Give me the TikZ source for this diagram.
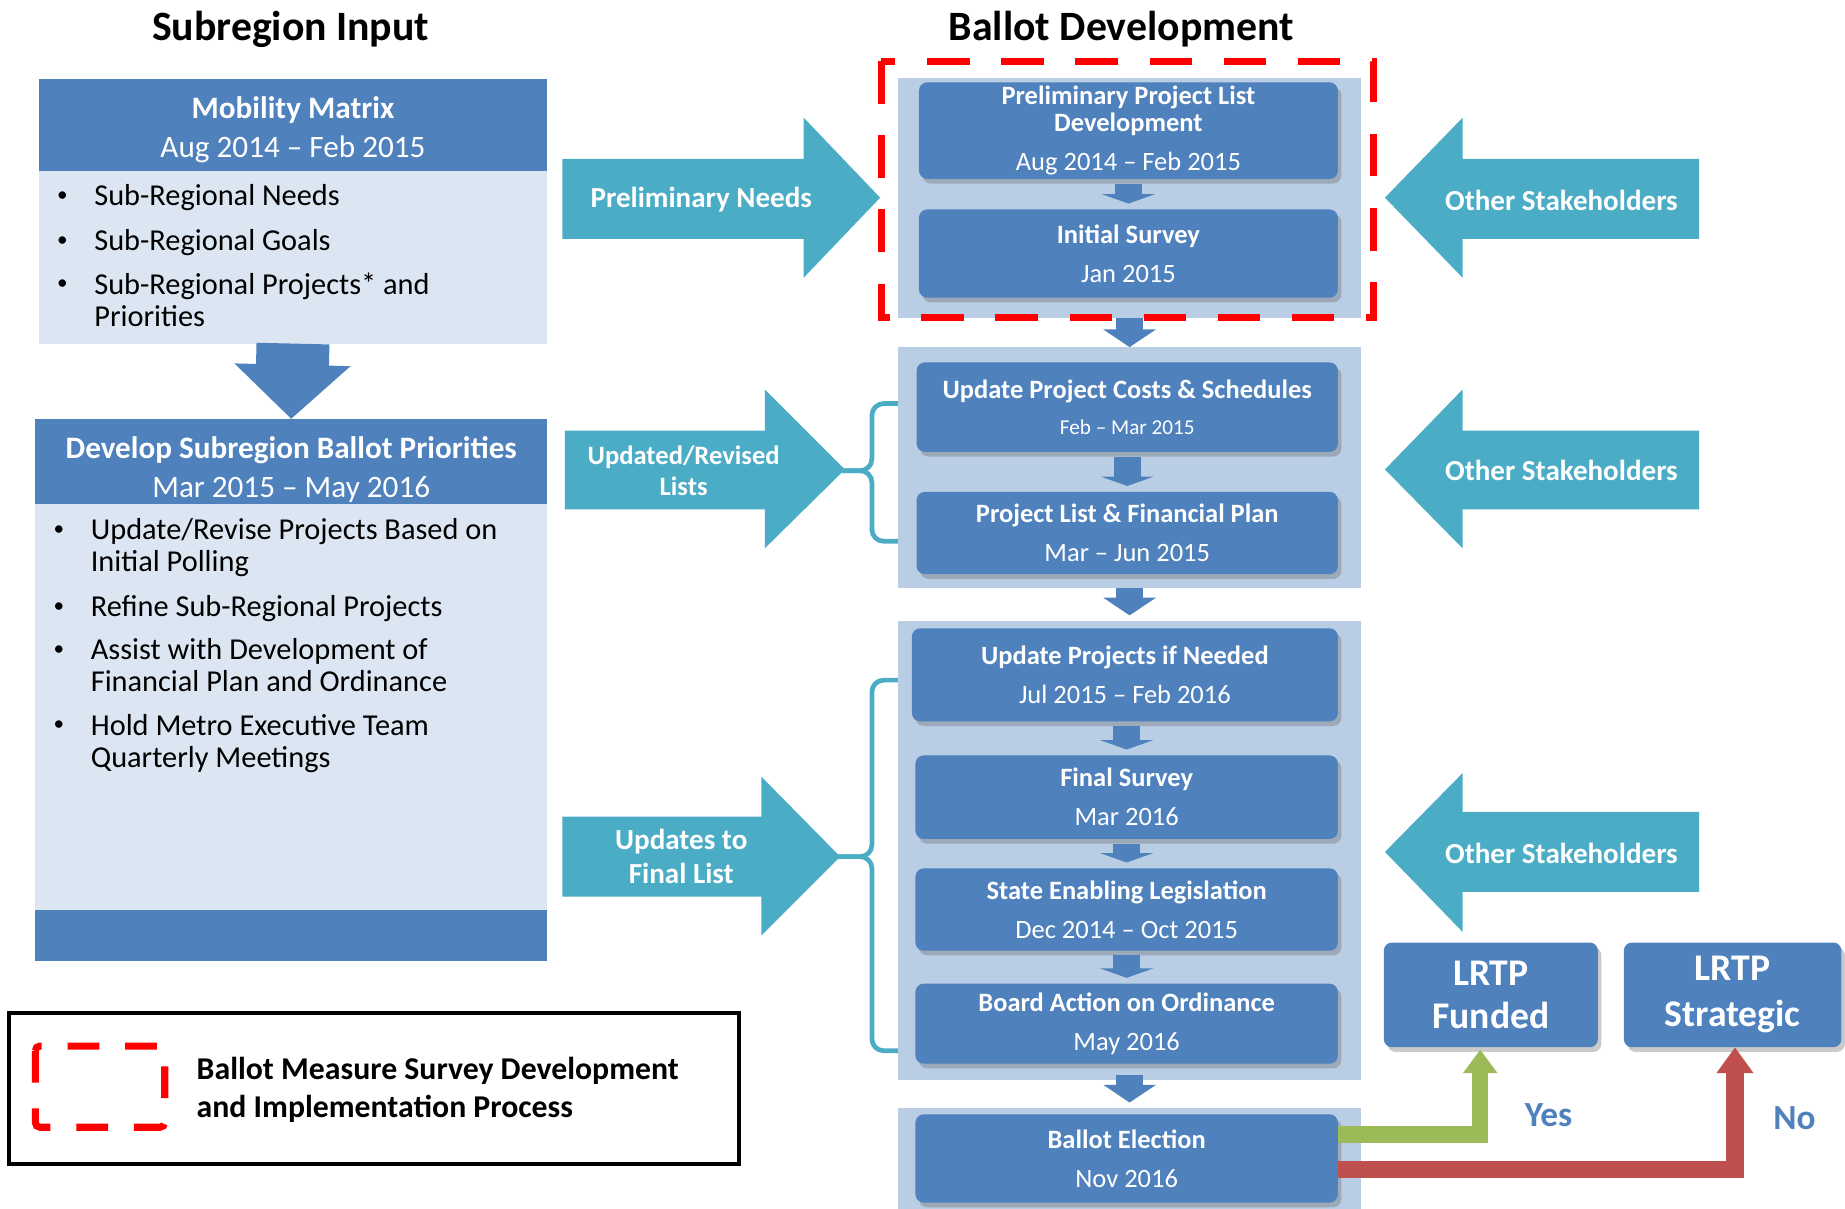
\documentclass[tikz,border=0pt]{standalone}
\usepackage{fontspec}
\setmainfont{Carlito}
\usetikzlibrary{arrows.meta,shadows,calc}
\definecolor{boxblue}{HTML}{4F81BD}
\definecolor{groupblue}{HTML}{B9CDE5}
\definecolor{lightblue}{HTML}{DCE6F2}
\definecolor{tealc}{HTML}{4BACC6}
\definecolor{yesgreen}{HTML}{9BBB59}
\definecolor{nored}{HTML}{C0504D}
\begin{document}
\begin{tikzpicture}[x=1pt,y=-1pt,
  maintitle/.style={inner sep=0pt,font=\fontsize{35.5}{40}\selectfont\bfseries},
  headbox/.style={fill=boxblue,inner sep=0pt,outer sep=0pt},
  headtext/.style={text=white,align=center,inner sep=0pt,font=\fontsize{26.5}{33}\selectfont},
  lightbox/.style={fill=lightblue,inner sep=0pt,outer sep=0pt},
  bulletitem/.style={anchor=west,align=left,inner sep=0pt,font=\fontsize{25.8}{27}\selectfont},
  bulletdot/.style={inner sep=0pt,font=\fontsize{18}{20}\selectfont},
  groupbg/.style={fill=groupblue,inner sep=0pt,outer sep=0pt,minimum width=394pt},
  stepbox/.style={fill=boxblue,text=white,rounded corners=7pt,align=center,inner sep=0pt,outer sep=0pt,
    drop shadow={shadow xshift=3pt,shadow yshift=-4pt,opacity=0.35,fill=black!60},
    font=\fontsize{22.5}{27}\selectfont},
  smallarrow/.style={draw=boxblue,line width=23pt,-{Triangle[width=45pt,length=8pt]},shorten <=4pt,shorten >=5pt},
  bigarrow/.style={draw=boxblue,line width=23pt,-{Triangle[width=44pt,length=15pt]}},
  teallabel/.style={text=white,align=center,inner sep=0pt,font=\fontsize{24.7}{27}\selectfont\bfseries},
  tealbrace/.style={draw=tealc,line width=4pt,rounded corners=10pt},
  dashbox/.style={draw=red,line width=6pt,dash pattern=on 36pt off 27pt},
  lrtp/.style={stepbox,font=\fontsize{32}{37}\selectfont\bfseries},
  yesno/.style={text=boxblue,inner sep=0pt,font=\fontsize{30}{34}\selectfont\bfseries}
]
\useasboundingbox (0,0) rectangle (1568,1027);
% 見出し
\node[maintitle] (subin) at (247,25) {Subregion Input};
\node[maintitle] (baldev) at (953,25) {Ballot Development};
% 左の列
\node[headbox,minimum width=432pt,minimum height=78pt] (mmhead) at (249,106) {};
\node[headtext] (mmtitle) at (249,110) {\textbf{Mobility Matrix}\\Aug 2014 -- Feb 2015};
\node[lightbox,minimum width=432pt,minimum height=147pt,anchor=north] (mmbody) at (mmhead.south) {};
\node[bulletdot] at (53,167) {\textbullet};
\node[bulletitem] (mm1) at (80,168) {Sub-Regional Needs};
\node[bulletdot] at (53,205) {\textbullet};
\node[bulletitem] (mm2) at (80,206.5) {Sub-Regional Goals};
\node[bulletdot] at (53,242) {\textbullet};
\node[bulletitem] (mm3) at (80,255) {Sub-Regional Projects* and\\Priorities};
\node[headbox,minimum width=435pt,minimum height=72pt] (devhead) at (247.5,392) {};
\node[headtext] (devtitle) at (247.5,399) {\textbf{Develop Subregion Ballot Priorities}\\Mar 2015 -- May 2016};
\node[lightbox,minimum width=435pt,minimum height=345pt,anchor=north] (devbody) at (devhead.south) {};
\node[headbox,minimum width=435pt,minimum height=44pt,anchor=north] (devfoot) at (devbody.south) {};
\draw[draw=boxblue,line width=62pt,-{Triangle[width=96pt,length=46pt]}] (mmbody.south) -- (devhead.north);
\node[bulletdot] at (50,451) {\textbullet};
\node[bulletitem] (dev1) at (77,465.5) {Update/Revise Projects Based on\\Initial Polling};
\node[bulletdot] at (50,516) {\textbullet};
\node[bulletitem] (dev2) at (77,517.5) {Refine Sub-Regional Projects};
\node[bulletdot] at (50,553) {\textbullet};
\node[bulletitem] (dev3) at (77,565.5) {Assist with Development of\\Financial Plan and Ordinance};
\node[bulletdot] at (50,617) {\textbullet};
\node[bulletitem] (dev4) at (77,632) {Hold Metro Executive Team\\Quarterly Meetings};
% 中央の枠
\node[groupbg,minimum height=204pt] (g1) at (960,168) {};
\node[groupbg,minimum height=205pt] (g2) at (960,397.5) {};
\node[groupbg,minimum height=390pt] (g3) at (960,723) {};
\node[groupbg,minimum height=88pt] (g4) at (960,986) {};
% 各段階
\node[stepbox,minimum width=356pt,minimum height=82pt] (prelim) at (959,111) {\textbf{Preliminary Project List}\\[-4pt]\textbf{Development}\\[6pt]Aug 2014 -- Feb 2015};
\node[stepbox,minimum width=356pt,minimum height=75pt] (initsurv) at (959,215.5) {\textbf{Initial Survey}\\[6pt]Jan 2015};
\node[stepbox,minimum width=358pt,minimum height=76pt] (costs) at (958,346) {\textbf{Update Project Costs \& Schedules}\\[4pt]{\fontsize{18}{22}\selectfont Feb -- Mar 2015}};
\node[stepbox,minimum width=358pt,minimum height=70pt] (finplan) at (958,453) {\textbf{Project List \& Financial Plan}\\[6pt]Mar -- Jun 2015};
\node[stepbox,minimum width=362pt,minimum height=79pt] (upd) at (956,573.5) {\textbf{Update Projects if Needed}\\[6pt]Jul 2015 -- Feb 2016};
\node[stepbox,minimum width=359pt,minimum height=71pt] (finsurv) at (957.5,677.5) {\textbf{Final Survey}\\[6pt]Mar 2016};
\node[stepbox,minimum width=359pt,minimum height=70pt] (legis) at (957.5,773) {\textbf{State Enabling Legislation}\\[6pt]Dec 2014 -- Oct 2015};
\node[stepbox,minimum width=359pt,minimum height=68pt] (board) at (957.5,870) {\textbf{Board Action on Ordinance}\\[6pt]May 2016};
\node[stepbox,minimum width=359pt,minimum height=75pt] (elect) at (957.5,984.5) {\textbf{Ballot Election}\\[6pt]Nov 2016};
% 矢印
\draw[smallarrow] (prelim.south) -- (prelim.south |- initsurv.north);
\draw[smallarrow] (costs.south) -- (costs.south |- finplan.north);
\draw[smallarrow] (finsurv.north |- upd.south) -- (finsurv.north);
\draw[smallarrow] (finsurv.south) -- (legis.north);
\draw[smallarrow] (legis.south) -- (board.north);
\draw[bigarrow] (g1.south) -- (g2.north);
\draw[bigarrow,shorten >=5pt] (g2.south) -- (g3.north);
\draw[bigarrow,shorten <=-4pt,shorten >=5pt] (g3.south) -- (g4.north);
% 左右の矢印
\fill[tealc] (478,135) -- (683,135) -- (683,100) -- (748,168) -- (683,236) -- (683,203) -- (478,203) -- cycle;
\node[teallabel] (needs) at (596,170) {Preliminary Needs};
\fill[tealc] (480,366) -- (650,366) -- (650,331) -- (718,399) -- (650,466) -- (650,433) -- (480,433) -- cycle;
\node[teallabel,font=\fontsize{22.6}{27}\selectfont\bfseries] (lists) at (581,400) {Updated/Revised\\Lists};
\fill[tealc] (478,694) -- (647,694) -- (647,660) -- (714,728) -- (647,795) -- (647,762) -- (478,762) -- cycle;
\node[teallabel,font=\fontsize{24.7}{29}\selectfont\bfseries] (final) at (579,728) {Updates to\\Final List};
\fill[tealc] (1444,135) -- (1243,135) -- (1243,100) -- (1177,168) -- (1243,236) -- (1243,203) -- (1444,203) -- cycle;
\node[teallabel] (other1) at (1327,170) {Other Stakeholders};
\fill[tealc] (1444,366) -- (1243,366) -- (1243,331) -- (1177,399) -- (1243,466) -- (1243,433) -- (1444,433) -- cycle;
\node[teallabel] (other2) at (1327,400) {Other Stakeholders};
\fill[tealc] (1444,690) -- (1243,690) -- (1243,657) -- (1177,724) -- (1243,792) -- (1243,758) -- (1444,758) -- cycle;
\node[teallabel] (other3) at (1327,725) {Other Stakeholders};
% 括弧
\draw[tealbrace] (763,343) -- (741,343) -- (741,400) -- (716,400);
\draw[tealbrace] (716,400) -- (741,400) -- (741,460) -- (763,460);
\draw[tealbrace] (763,578) -- (741,578) -- (741,728) -- (712,728);
\draw[tealbrace] (712,728) -- (741,728) -- (741,893) -- (763,893);
% 調査の範囲
\draw[dashbox] (749,52) rectangle (1167,270);
% 凡例
\node[draw,line width=3.5pt,minimum width=620pt,minimum height=128pt,inner sep=0pt] (legend) at (318,925) {};
\draw[draw=red,line width=6pt,rounded corners=4pt,dash pattern=on 27pt off 22pt] (30,889) rectangle (140,958);
\node[anchor=west,align=left,inner sep=0pt,font=\fontsize{27}{32}\selectfont\bfseries] (legtext) at (167,926) {Ballot Measure Survey Development\\and Implementation Process};
% LRTP
\node[lrtp,minimum width=182pt,minimum height=89pt] (funded) at (1267,845.5) {LRTP\\Funded};
\node[lrtp,minimum width=185pt,minimum height=89pt] (strategic) at (1472.5,845.5) {LRTP\\[2pt]Strategic};
\draw[draw=yesgreen,line width=14pt,-{Triangle[width=28pt,length=20pt]}] ([yshift=20.5pt]elect.east) -| ([xshift=-9pt,yshift=-2pt]funded.south);
\draw[draw=nored,line width=15pt,-{Triangle[width=30pt,length=22pt]}] ([yshift=-9.5pt]elect.east) -| ([xshift=2pt]strategic.south);
\node[yesno] (yes) at (1316,948) {Yes};
\node[yesno] (no) at (1525,950) {No};
\end{tikzpicture}
\end{document}
